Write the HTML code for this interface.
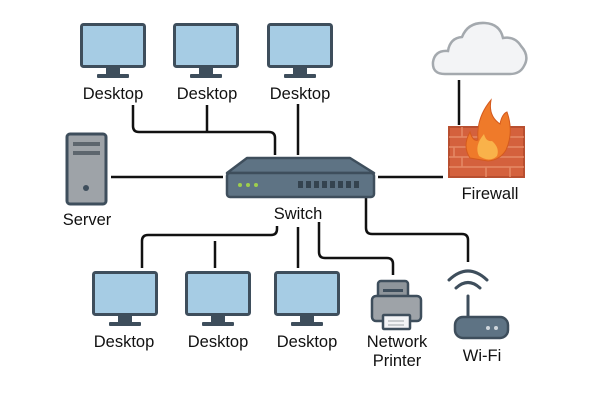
<!DOCTYPE html><html><head><meta charset="utf-8"><style>body{margin:0;background:#fff}text{font-family:"Liberation Sans",sans-serif;font-size:16.5px;fill:#111;text-anchor:middle}</style></head><body>
<svg width="600" height="400" viewBox="0 0 600 400" xmlns="http://www.w3.org/2000/svg">
<defs>
<g id="mon"><rect x="1.5" y="1.5" width="63" height="42" rx="2" fill="#a6cce4" stroke="#3e4e5c" stroke-width="3"/><rect x="26" y="45" width="14" height="7" fill="#3e4e5c"/><rect x="17" y="51" width="32" height="4" rx="1" fill="#3e4e5c"/></g>
</defs>
<g fill="none" stroke="#111" stroke-width="2.5" stroke-linejoin="round">
<path d="M133 105V126q0 6 6 6H269q6 0 6 6V155"/><path d="M207 105V132"/><path d="M298 104V155"/>
<path d="M111 177H223"/><path d="M378 177H443"/><path d="M459 80V125"/>
<path d="M277 226V229q0 6-6 6H148q-6 0-6 6V268"/><path d="M215 268V241"/><path d="M298 227V268"/>
<path d="M319 222V252q0 6 6 6H387q6 0 6 6V275"/>
<path d="M366 198V228q0 6 6 6H462q6 0 6 6V262"/>
</g>
<use href="#mon" x="80" y="23"/><use href="#mon" x="173" y="23"/><use href="#mon" x="267" y="23"/>
<use href="#mon" x="92" y="271"/><use href="#mon" x="185" y="271"/><use href="#mon" x="274" y="271"/>
<text x="113" y="99">Desktop</text><text x="207" y="99">Desktop</text><text x="300" y="99">Desktop</text>
<text x="124" y="347">Desktop</text><text x="218" y="347">Desktop</text><text x="307" y="347">Desktop</text>
<rect x="67" y="134" width="39" height="70" rx="3" fill="#9ea3a8" stroke="#3e4e5c" stroke-width="3"/>
<rect x="73" y="142" width="27" height="4" fill="#5d666e"/><rect x="73" y="151" width="27" height="4" fill="#5d666e"/><circle cx="86" cy="188" r="3" fill="#3e4e5c"/>
<text x="87" y="225">Server</text>
<path d="M247 158H350L374 173H227Z" fill="#5e7384" stroke="#3e4e5c" stroke-width="2.5" stroke-linejoin="round"/>
<rect x="227" y="173" width="147" height="24" rx="3" fill="#5e7384" stroke="#3e4e5c" stroke-width="2.5"/>
<g fill="#9ecf4c"><circle cx="240" cy="185" r="2"/><circle cx="248" cy="185" r="2"/><circle cx="256" cy="185" r="2"/></g>
<g fill="#34434f"><rect x="298" y="181" width="5" height="7"/><rect x="306" y="181" width="5" height="7"/><rect x="314" y="181" width="5" height="7"/><rect x="322" y="181" width="5" height="7"/><rect x="330" y="181" width="5" height="7"/><rect x="338" y="181" width="5" height="7"/><rect x="346" y="181" width="5" height="7"/><rect x="354" y="181" width="5" height="7"/></g>
<text x="298" y="219">Switch</text>
<path d="M445 74Q432 74 433 62Q435 50 448 51Q450 38 462 37Q468 22 485 23Q500 24 503 38Q515 36 521 46Q530 56 524 66Q520 74 510 74Z" fill="#f3f4f6" stroke="#a4a9ae" stroke-width="2.5"/>
<rect x="449" y="127" width="75" height="50" fill="#d4613d" stroke="#b84f30" stroke-width="2"/>
<g stroke="#e58a66" stroke-width="1.5"><path d="M449 137H524M449 147H524M449 157H524M449 167H524"/><path d="M462 127v10M486 137v10M474 147v10M500 147v10M462 157v10M486 167v10M510 167v10M454 147v10"/></g>
<path d="M470 158Q462 146 470 132Q473 142 478 140Q476 118 491 100Q488 116 500 124Q502 114 507 112Q514 132 506 150Q500 160 488 161Z" fill="#ef7a2a" stroke="#d45a1e" stroke-width="1"/>
<path d="M479 156Q474 146 484 134Q486 142 492 141Q500 148 497 156Q490 163 479 156Z" fill="#f9b24a"/>
<text x="490" y="199">Firewall</text>
<rect x="378" y="281" width="30" height="20" rx="3" fill="#8e959b" stroke="#3e4e5c" stroke-width="2.5"/>
<rect x="372" y="296" width="49" height="25" rx="4" fill="#9ea3a8" stroke="#3e4e5c" stroke-width="2.5"/>
<rect x="383" y="289" width="20" height="3" fill="#3e4e5c"/>
<rect x="383" y="315" width="27" height="14" rx="1" fill="#f3f4f6" stroke="#3e4e5c" stroke-width="2.5"/>
<path d="M388 321h16M388 325h16" stroke="#9ea3a8" stroke-width="1"/>
<text x="397" y="347">Network</text><text x="397" y="366">Printer</text>
<g fill="none" stroke="#3e4e5c" stroke-width="3" stroke-linecap="round"><path d="M449 280Q468 262 487 280"/><path d="M456 288Q468 277 480 288"/><path d="M468 296V318"/></g>
<rect x="455" y="317" width="53" height="21" rx="8" fill="#5e7384" stroke="#3e4e5c" stroke-width="2.5"/>
<circle cx="488" cy="328" r="2" fill="#cfd6dc"/><circle cx="496" cy="328" r="2" fill="#cfd6dc"/>
<text x="482" y="361">Wi-Fi</text>
</svg></body></html>
